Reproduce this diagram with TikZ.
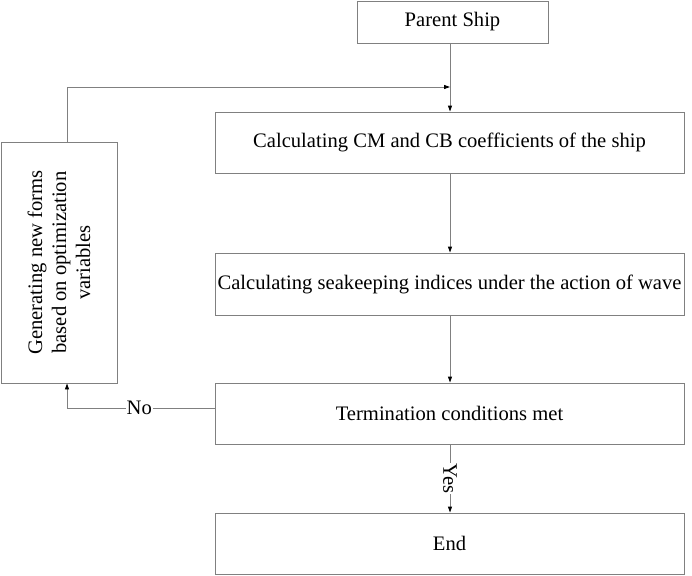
\documentclass[tikz,border=0pt]{standalone}
\usepackage{fontspec}
\setmainfont{Liberation Serif}
\usetikzlibrary{arrows.meta}
\definecolor{linegray}{HTML}{808080}
\begin{document}
\begin{tikzpicture}[x=1pt,y=-1pt,
  box/.style={draw=linegray, line width=0.9pt, inner sep=0pt, align=center, font=\fontsize{20.6}{24}\selectfont},
  conn/.style={draw=linegray, line width=0.9pt},
  arr/.style={conn, -{Triangle[length=6pt,width=4pt,fill=black,color=black]}},
  lbl/.style={fill=white, inner sep=1pt, font=\fontsize{20.6}{24}\selectfont}]
\useasboundingbox (0,0) rectangle (692,575);
\node[box, minimum width=191pt, minimum height=42pt] (parent) at (452.5,22) {Parent Ship};
\node[box, minimum width=469pt, minimum height=61pt] (b1) at (449.5,142.5) {Calculating CM and CB coefficients of the ship};
\node[box, minimum width=469pt, minimum height=62pt] (b2) at (449.5,284) {Calculating seakeeping indices under the action of wave};
\node[box, minimum width=469pt, minimum height=61pt] (b3) at (449.5,413.5) {Termination conditions met};
\node[box, minimum width=469pt, minimum height=61pt] (end) at (449.5,543.5) {End};
\node[box, minimum width=116pt, minimum height=241pt] (left) at (59,262.5) {};
\node[inner sep=0pt, align=center, rotate=90, font=\fontsize{20.6}{24}\selectfont] (lefttext) at (left.center) {Generating new forms\\based on optimization\\variables};
\coordinate (xtop) at (450,43);
\coordinate (fb1) at (67,87);
\coordinate (fb2) at (450,87);
\coordinate (no1) at (67,408);
\draw[arr] (xtop) -- (xtop |- b1.north);
\draw[arr] (b1.south -| xtop) -- (b2.north -| xtop);
\draw[arr] (b2.south -| xtop) -- (b3.north -| xtop);
\draw[arr] (b3.south -| xtop) -- node[lbl, rotate=-90] {Yes} (end.north -| xtop);
\draw[conn] (fb1 |- left.north) -- (fb1);
\draw[arr] (fb1) -- (fb2);
\draw[conn] (b3.west |- no1) -- node[lbl, pos=0.51] {No} (no1);
\draw[arr] (no1) -- (no1 |- left.south);
\end{tikzpicture}
\end{document}
